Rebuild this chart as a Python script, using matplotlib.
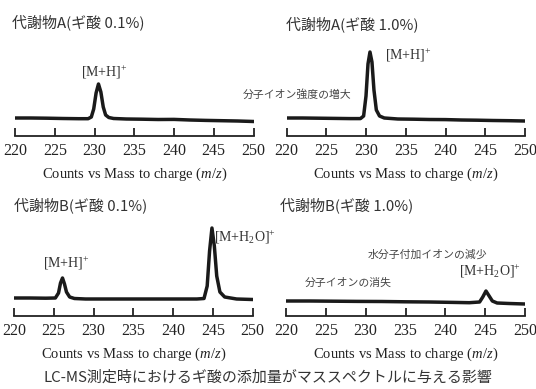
import matplotlib
matplotlib.use("Agg")
import matplotlib.pyplot as plt

W, H = 536, 389
plt.rcParams['mathtext.fontset'] = 'custom'
plt.rcParams['mathtext.rm'] = 'Liberation Serif'
plt.rcParams['mathtext.it'] = 'Liberation Serif:italic'

CJK = ['Noto Sans CJK JP', 'DejaVu Sans']
SERIF = 'Liberation Serif'

# ---- data ----
ticks = [220, 225, 230, 235, 240, 245, 250]
titles = ['代謝物A(ギ酸 0.1%)', '代謝物A(ギ酸 1.0%)', '代謝物B(ギ酸 0.1%)', '代謝物B(ギ酸 1.0%)']
xlabel = 'Counts vs Mass to charge ($m/z$)'
caption = 'LC-MS測定時におけるギ酸の添加量がマススペクトルに与える影響'

mz_a1 = [220, 222, 224, 226, 228, 229.2, 229.6, 229.9, 230.2, 230.5, 230.8, 231.1, 231.4, 231.8, 232.4,
         234, 236, 238, 240, 242, 244, 246, 248, 250]
int_a1 = [18, 18, 17.8, 17.5, 17.3, 17.3, 19, 27, 43, 52, 44, 29, 21, 18.5, 17.5,
          17, 16.8, 16.5, 16.6, 16, 15.6, 15.3, 15, 14.5]

mz_a2 = [220, 222, 224, 226, 228, 229.3, 229.7, 230.0, 230.25, 230.5, 230.75, 231.0, 231.3, 231.7, 232.3,
         234, 236, 238, 240, 242, 244, 246, 248, 250]
int_a2 = [18, 18, 17.8, 17.6, 17.4, 17.4, 20, 40, 72, 84, 74, 46, 26, 20, 18,
          17, 16.8, 16.5, 16.4, 16, 15.8, 15.5, 15.3, 15]

mz_b1 = [220, 222, 224, 225.2, 225.6, 225.85, 226.1, 226.35, 226.6, 227.0, 227.6, 229, 232, 235, 238,
         241, 243, 243.9, 244.3, 244.6, 244.9, 245.2, 245.5, 245.9, 246.5, 248, 250]
int_b1 = [18, 18, 17.8, 18, 23, 33, 38, 32, 24, 19, 17.5, 17, 17, 17, 17,
          17, 17, 17.5, 30, 65, 88, 70, 40, 24, 19, 17, 16.5]

mz_b2 = [220, 223, 226, 229, 232, 235, 238, 241, 243, 244.3, 244.7, 245.1, 245.5, 245.9, 246.5, 248, 250]
int_b2 = [15, 15, 14.8, 14.6, 14.5, 14.2, 14, 13.6, 13.3, 14, 19, 25, 20, 15, 13, 12.5, 12]

series = [(mz_a1, int_a1), (mz_a2, int_a2), (mz_b1, int_b1), (mz_b2, int_b2)]

fig = plt.figure(figsize=(W / 100, H / 100), dpi=100)
fig.patch.set_facecolor('white')

def fx(px):
    return px / W

def fy(py):
    return 1 - py / H

# axes: (left px, right px, axis-line px y)
boxes = [(15, 253.5, 136), (286.5, 525, 136), (14, 252.5, 316), (286, 525, 316)]
title_pos = [(12, 22), (286, 24), (14, 205), (280, 205)]
axes = []
for i, (l, r, yb) in enumerate(boxes):
    ax = fig.add_axes([fx(l), fy(yb), fx(r) - fx(l), 100 / H])
    mz, it = series[i]
    ax.plot(mz, it, color='#1a1a1a', lw=2.5, solid_joinstyle='round')
    ax.set_xlim(220, 250)
    ax.set_ylim(0, 100)
    for s in ['top', 'left', 'right']:
        ax.spines[s].set_visible(False)
    ax.spines['bottom'].set_linewidth(1.3)
    ax.spines['bottom'].set_color('#222222')
    ax.set_yticks([])
    ax.set_xticks(ticks)
    ax.tick_params(axis='x', direction='in', length=6, width=1.3, color='#222222', pad=5)
    for lab in ax.get_xticklabels():
        lab.set_fontfamily(SERIF)
        lab.set_fontsize(11.5)
        lab.set_color('#222222')
    ax.set_xlabel(xlabel, fontfamily=SERIF, fontsize=10.5, color='#222222', labelpad=5)
    ax.patch.set_alpha(0)
    axes.append(ax)
    tx, ty = title_pos[i]
    fig.text(fx(tx), fy(ty), titles[i], fontfamily=CJK, fontsize=10.8, color='#333333',
             ha='left', va='center')

ann_kw = dict(fontfamily=SERIF, fontsize=10, color='#333333', ha='center', va='center', clip_on=False)
jp_kw = dict(fontfamily=CJK, fontsize=7.8, color='#444444', ha='center', va='center', clip_on=False)

axes[0].text(231.2, 64, r'[M+H]$^{+}$', **ann_kw)
axes[1].text(235.3, 81, r'[M+H]$^{+}$', **ann_kw)
axes[1].text(221.3, 41, '分子イオン強度の増大', **jp_kw)
axes[2].text(226.6, 53, r'[M+H]$^{+}$', **ann_kw)
axes[2].text(249.0, 79, r'[M+H$_{2}$O]$^{+}$', **ann_kw)
axes[3].text(237.7, 61, '水分子付加イオンの減少', **jp_kw)
axes[3].text(245.6, 45, r'[M+H$_{2}$O]$^{+}$', **ann_kw)
axes[3].text(227.8, 33, '分子イオンの消失', **jp_kw)

fig.text(fx(268), fy(378), caption, fontfamily=CJK, fontsize=10.8, color='#333333',
         ha='center', va='center')

fig.savefig('out.png', dpi=100, facecolor='white')
